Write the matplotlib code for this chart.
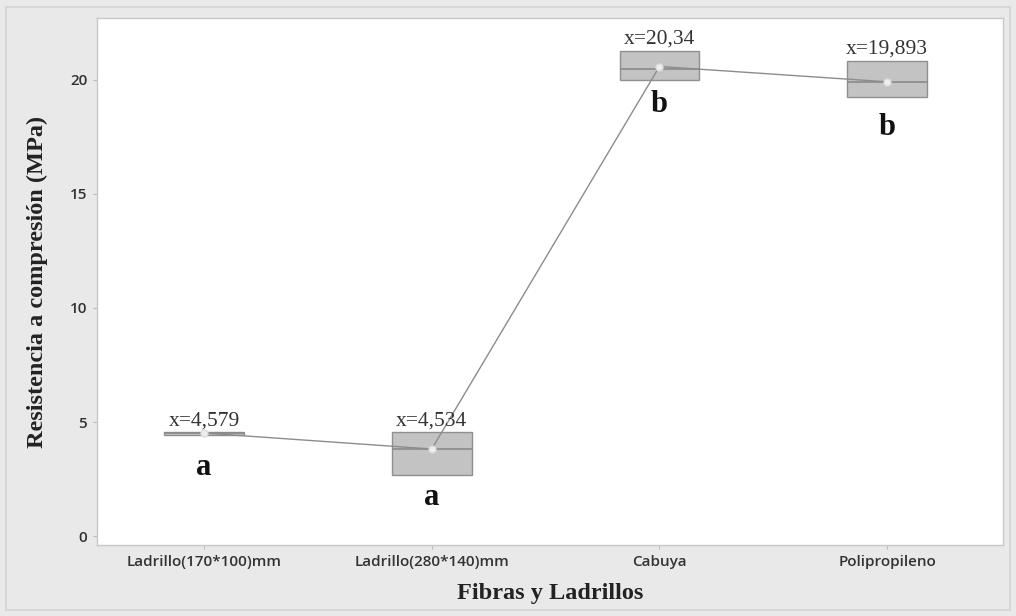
import matplotlib
matplotlib.use("Agg")
import matplotlib.pyplot as plt
from matplotlib.patches import Rectangle

categories = ["Ladrillo(170*100)mm", "Ladrillo(280*140)mm", "Cabuya", "Polipropileno"]
q1 = [4.45, 2.68, 19.96, 19.25]
median = [4.50, 3.82, 20.44, 19.90]
q3 = [4.55, 4.56, 21.27, 20.83]
mean = [4.52, 3.82, 20.57, 19.90]
mean_labels = ["x=4,579", "x=4,534", "x=20,34", "x=19,893"]
groups = ["a", "a", "b", "b"]
group_y = [3.0, 1.7, 18.9, 17.9]
label_y = [4.65, 4.65, 21.35, 20.9]
yticks = [0, 5, 10, 15, 20]

fig = plt.figure(figsize=(10.16, 6.16), dpi=100)
fig.patch.set_facecolor("#e9e9e9")
fig.patches.append(Rectangle((0.006, 0.01), 0.988, 0.978, transform=fig.transFigure,
                             fill=False, edgecolor="#d4d4d4", linewidth=1.2))
ax = fig.add_axes([0.0955, 0.115, 0.892, 0.856])
ax.set_facecolor("white")

pos = list(range(len(categories)))
stats = []
for i in pos:
    stats.append(dict(med=median[i], q1=q1[i], q3=q3[i], whislo=q1[i], whishi=q3[i],
                      mean=mean[i], fliers=[]))
ax.bxp(stats, positions=pos, widths=0.35, patch_artist=True, showfliers=False,
       showcaps=False, showmeans=False,
       boxprops=dict(facecolor="#c3c3c3", edgecolor="#8f8f8f", linewidth=1.0),
       medianprops=dict(color="#8a8a8a", linewidth=1.2),
       whiskerprops=dict(linewidth=0))
ax.plot(pos, mean, color="#8c8c8c", linewidth=1.0, zorder=3)
ax.plot(pos, mean, linestyle="none", marker="o", markersize=5, markerfacecolor="#eeeeee",
        markeredgecolor="#dcdcdc", zorder=4)

for i in pos:
    ax.text(pos[i], label_y[i], mean_labels[i], ha="center", va="bottom",
            family="Liberation Serif", fontsize=15.5, color="#333333")
    ax.text(pos[i], group_y[i], groups[i], ha="center", va="center",
            family="Liberation Serif", fontsize=22, fontweight="bold", color="#111111")

ax.set_xlim(-0.47, 3.51)
ax.set_ylim(-0.39, 22.7)
ax.set_yticks(yticks)
ax.set_xticks(pos)
ax.set_xticklabels(categories)
for lab in ax.get_xticklabels() + ax.get_yticklabels():
    lab.set_family("Open Sans")
    lab.set_fontsize(11)
    lab.set_fontweight("semibold")
    lab.set_color("#333333")
ax.tick_params(axis="both", length=3, color="#bbbbbb", pad=4)
for s in ax.spines.values():
    s.set_color("#c8c8c8")
    s.set_linewidth(1.0)

ax.set_ylabel("Resistencia a compresión (MPa)", family="Liberation Serif", fontsize=17.5,
              fontweight="bold", color="#222222", labelpad=16)
ax.set_xlabel("Fibras y Ladrillos", family="Liberation Serif", fontsize=17.5,
              fontweight="bold", color="#222222", labelpad=10)

fig.savefig("out.png", dpi=100, facecolor=fig.get_facecolor())
